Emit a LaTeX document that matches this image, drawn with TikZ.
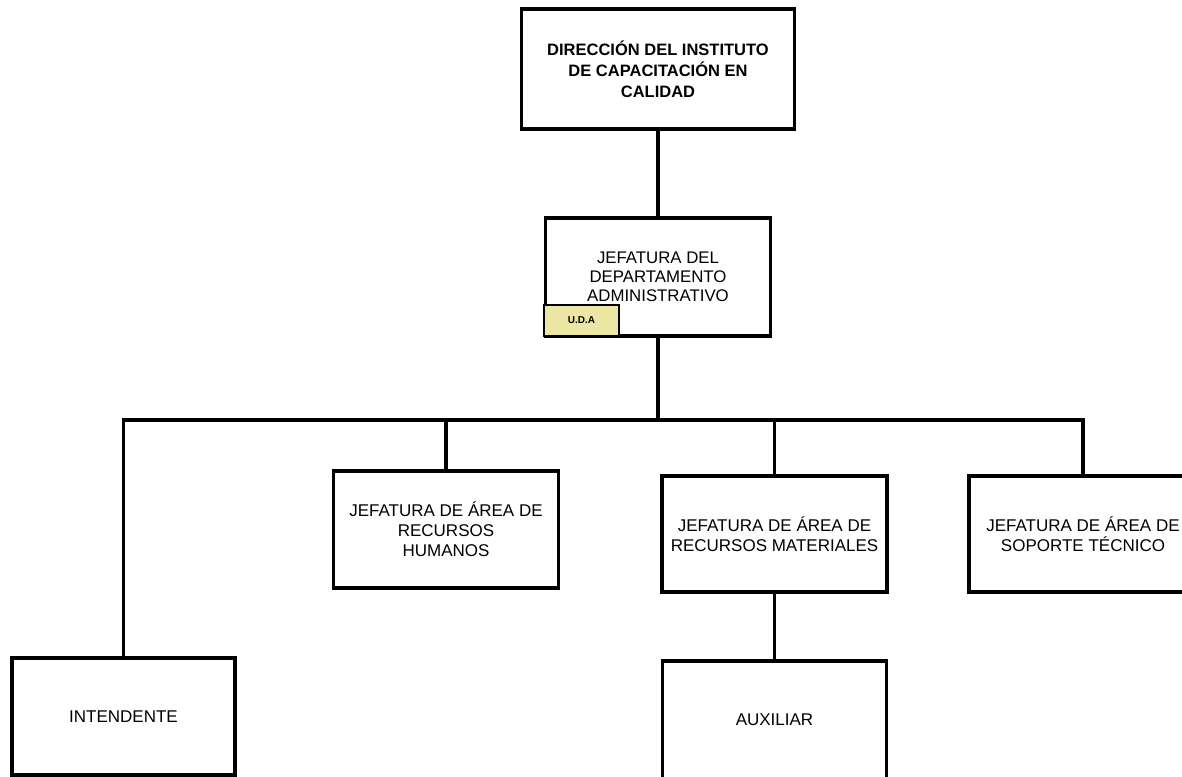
\documentclass[tikz,border=0pt]{standalone}
\usepackage{fontspec}
\setmainfont{Liberation Sans}
\begin{document}
\begin{tikzpicture}[x=1pt,y=-1pt,
  box/.style={draw=black, line width=3.2pt, rectangle, inner sep=0pt, align=center, fill=white, text=black},
  txt/.style={font=\fontsize{17}{20}\selectfont},
  link/.style={draw=black, line width=3.2pt, line join=miter}]
\useasboundingbox (0,0) rectangle (1182,776);
\begin{scope}
\clip (0,0) rectangle (1182,776);
\node[box, minimum width=273pt, minimum height=120pt, font=\bfseries\fontsize{16.5}{21}\selectfont] (dir) at (658,69) {DIRECCIÓN DEL INSTITUTO\\DE CAPACITACIÓN EN\\CALIDAD};
\node[box, minimum width=225pt, minimum height=118pt, font=\fontsize{16.8}{19}\selectfont] (jda) at (658,277) {JEFATURA DEL\\DEPARTAMENTO\\ADMINISTRATIVO};
\node[box, line width=2.8pt, fill={rgb,255:red,236;green,230;blue,164}, minimum width=75pt, minimum height=31pt, font=\bfseries\fontsize{10}{12}\selectfont] (uda) at (581.5,320.5) {U.D.A};
\node[box, txt, minimum width=223pt, minimum height=117pt] (int) at (123.5,716.5) {INTENDENTE};
\node[box, txt, minimum width=225pt, minimum height=117pt] (rh) at (446,529.5) {JEFATURA DE ÁREA DE\\RECURSOS\\HUMANOS};
\node[box, txt, minimum width=225pt, minimum height=116pt] (rm) at (774.5,534) {JEFATURA DE ÁREA DE\\RECURSOS MATERIALES};
\node[box, txt, minimum width=228pt, minimum height=116pt] (st) at (1083,534) {JEFATURA DE ÁREA DE\\SOPORTE TÉCNICO};
\node[box, txt, minimum width=224pt, minimum height=118pt] (aux) at (774.5,720) {AUXILIAR};
\coordinate (bus) at (658,420);
\draw[link] (dir.south) -- (jda.north);
\draw[link] (jda.south) -- (bus);
\draw[link] (int.north) |- (bus);
\draw[link] (st.north) |- (bus);
\draw[link] (rh.north) -- (rh.north |- bus);
\draw[link] (rm.north) -- (rm.north |- bus);
\draw[link] (rm.south) -- (aux.north);
\end{scope}
\end{tikzpicture}
\end{document}
